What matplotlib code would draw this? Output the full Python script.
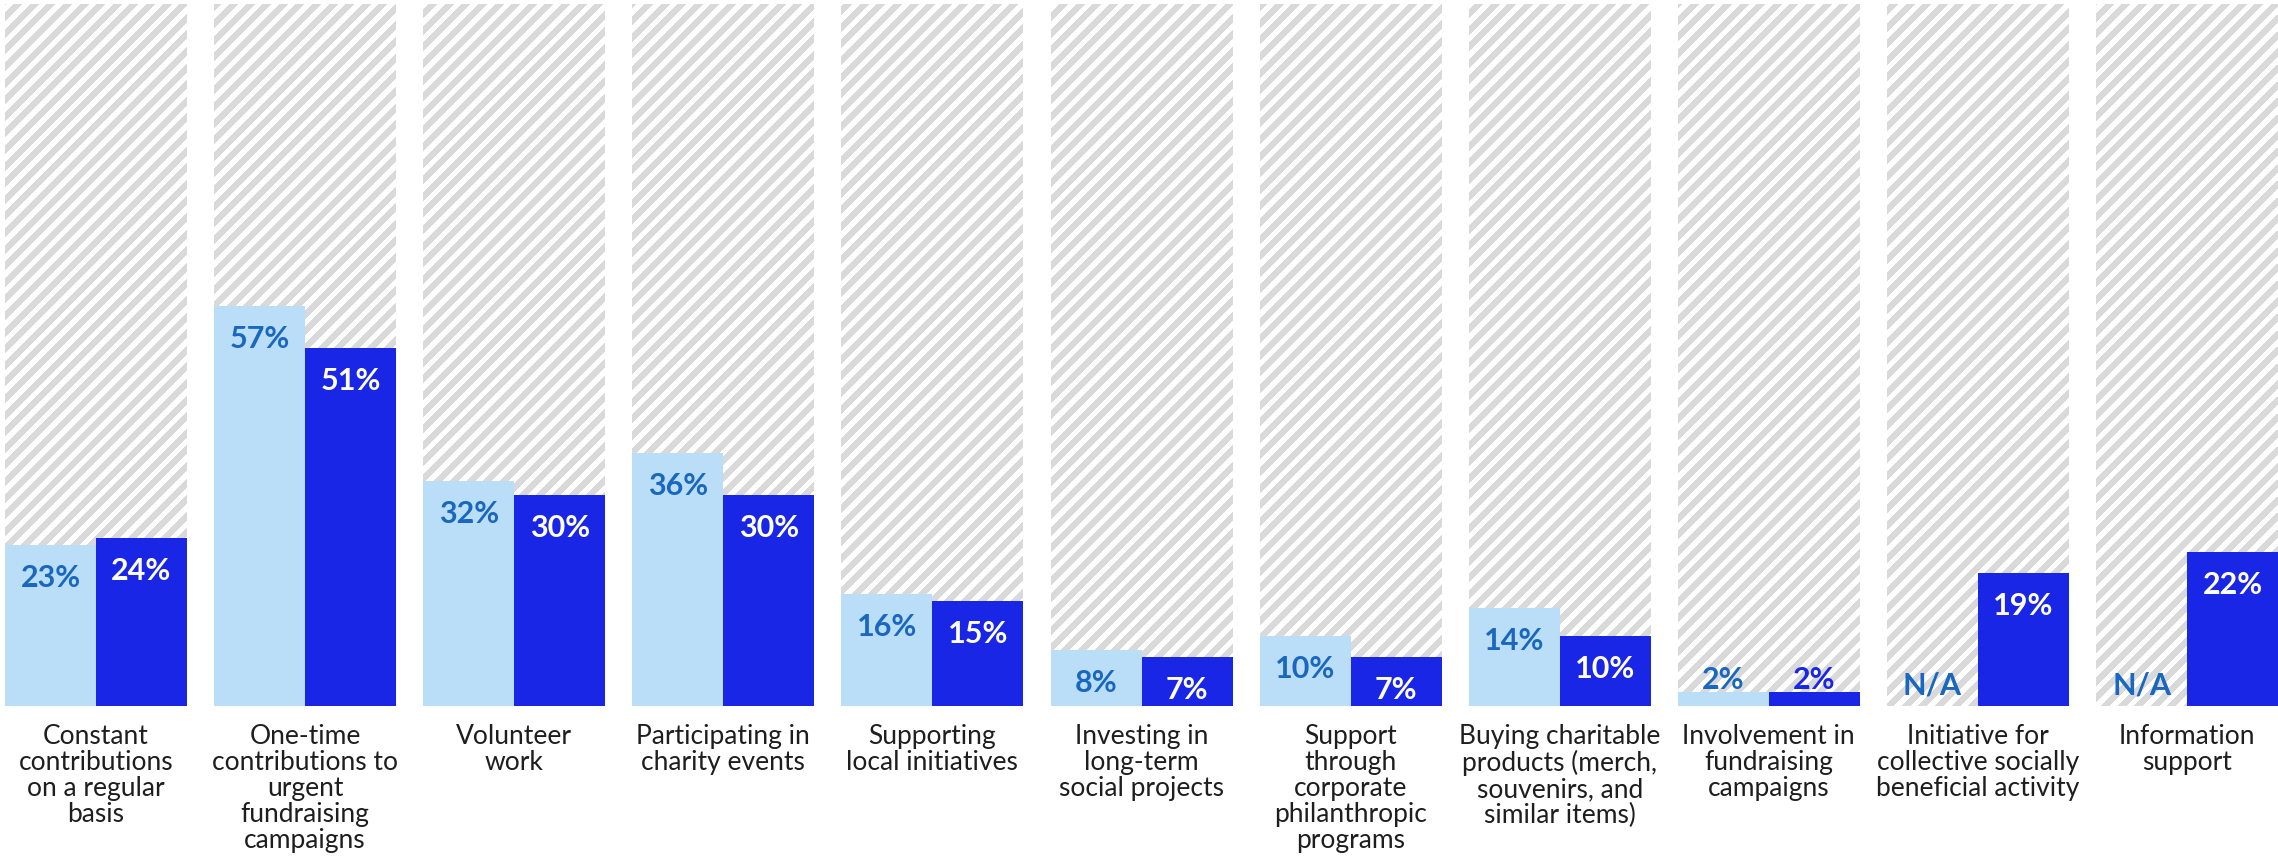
import matplotlib
matplotlib.use("Agg")
import matplotlib.pyplot as plt
from matplotlib.collections import LineCollection
from matplotlib.transforms import IdentityTransform
import numpy as np

categories = [
    "Constant\ncontributions\non a regular\nbasis",
    "One-time\ncontributions to\nurgent\nfundraising\ncampaigns",
    "Volunteer\nwork",
    "Participating in\ncharity events",
    "Supporting\nlocal initiatives",
    "Investing in\nlong-term\nsocial projects",
    "Support\nthrough\ncorporate\nphilanthropic\nprograms",
    "Buying charitable\nproducts (merch,\nsouvenirs, and\nsimilar items)",
    "Involvement in\nfundraising\ncampaigns",
    "Initiative for\ncollective socially\nbeneficial activity",
    "Information\nsupport",
]
previous = [23, 57, 32, 36, 16, 8, 10, 14, 2, None, None]
current = [24, 51, 30, 30, 15, 7, 7, 10, 2, 19, 22]

LIGHT = "#bbdef8"
DARK = "#1a26e6"
LIGHT_TXT = "#1a67c0"
STRIPE = "#d9d9d9"

plt.rcParams["font.family"] = ["Lato", "DejaVu Sans"]

W, H = 2278, 865
fig = plt.figure(figsize=(W / 100, H / 100), dpi=100)
ax = fig.add_axes([0, (H - 706) / H, 1, 702 / H])

spacing = 209.1
xmin = -96 / spacing
ax.set_xlim(xmin, xmin + W / spacing)
ax.set_ylim(0, 100)
ax.axis("off")

bw = 91 / spacing
x = np.arange(len(categories))
px = 100 / 702  # one pixel in value units

# white 100% backdrop behind each pair, filled with diagonal stripes
backs = ax.bar(x, 100, width=2 * bw, color="white", linewidth=0, zorder=1)
period = 16.6
offsets = np.arange(-W, H + period, period)
segs = [[(-20, c - 20), (W + 20, c + W + 20)] for c in offsets]
for patch in backs.patches:
    lc = LineCollection(segs, colors=STRIPE, linewidths=3.6,
                        antialiaseds=False,
                        transform=IdentityTransform(), zorder=1.5)
    ax.add_collection(lc)
    lc.set_clip_path(patch)


def put_label(xc, v, color_in, color_out):
    if v > 6:
        ax.text(xc, v - 33 * px, f"{v}%", ha="center", va="center",
                color=color_in, fontsize=22, fontweight="bold", zorder=3)
    else:
        ax.text(xc, v + 12 * px, f"{v}%", ha="center", va="center",
                color=color_out, fontsize=22, fontweight="bold", zorder=3)


for i in range(len(categories)):
    p, c = previous[i], current[i]
    xl, xr = x[i] - bw / 2, x[i] + bw / 2
    if p is not None:
        ax.bar(xl, p, width=bw, color=LIGHT, linewidth=0, zorder=2)
        put_label(xl, p, LIGHT_TXT, LIGHT_TXT)
    else:
        ax.text(xl, 21 * px, "N/A", ha="center", va="center",
                color=LIGHT_TXT, fontsize=22, fontweight="bold", zorder=3)
    ax.bar(xr, c, width=bw, color=DARK, linewidth=0, zorder=2)
    put_label(xr, c, "white", DARK)

    ax.text(x[i], -2.6, categories[i], ha="center", va="top",
            color="#1e1e1e", fontsize=19, linespacing=1.05, zorder=3)

fig.savefig("out.png", dpi=100, facecolor="white")
